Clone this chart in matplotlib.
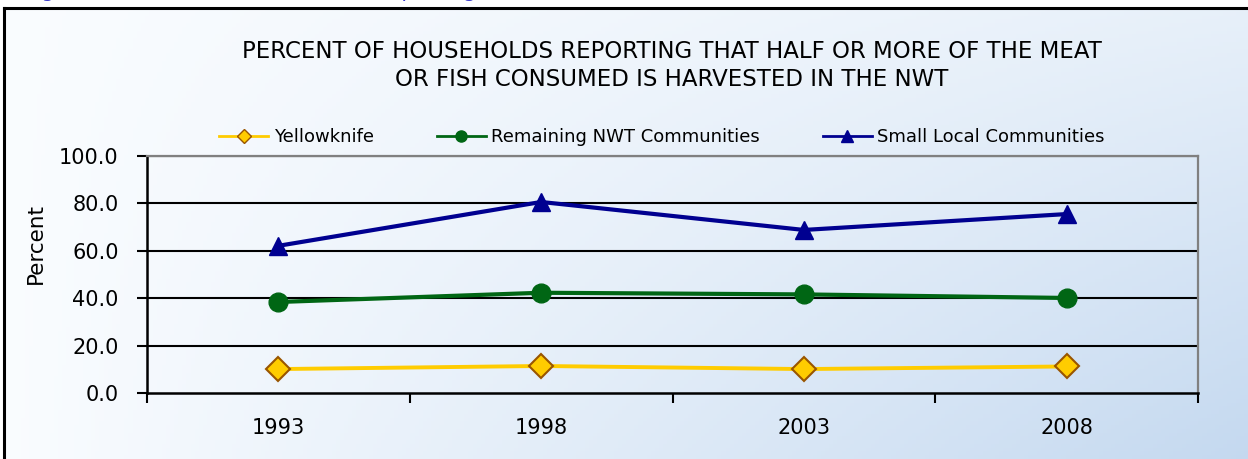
import numpy as np
import matplotlib.pyplot as plt
from matplotlib.lines import Line2D

years = ['1993', '1998', '2003', '2008']
yellowknife = [10.1, 11.4, 10.1, 11.2]
remaining = [38.4, 42.3, 41.6, 40.1]
small_local = [62.1, 80.6, 68.8, 75.5]

W, H = 1248, 459
fig = plt.figure(figsize=(W / 100, H / 100), dpi=100)
fig.patch.set_facecolor('white')

# caption of the page, almost entirely above the crop
fig.text(0.02, 1 + 3 / H, 'Figure 10: Percent of Households Reporting that Half or More of the Meat or Fish Consumed is Harvested in the NWT',
         color='#3a3acc', fontsize=15, va='baseline', ha='left')

# gradient background inside the frame
bg = fig.add_axes([4 / W, 0, 1 - 4 / W, (H - 8) / H])
gx, gy = np.meshgrid(np.linspace(0, 1, 300), np.linspace(0, 1, 120))
t = np.clip(gx * (0.35 + 0.65 * gy), 0, 1)
c0 = np.array([0.98, 0.99, 1.0])
c1 = np.array([0.77, 0.85, 0.94])
img = c0 + (c1 - c0) * t[..., None]
bg.imshow(img, aspect='auto', extent=[0, 1, 0, 1], origin='upper')
bg.set_xlim(0, 1)
bg.set_ylim(0, 1)
bg.set_axis_off()
fig.add_artist(Line2D([4 / W, 4 / W], [0, (H - 8) / H], color='black', lw=2.2))
fig.add_artist(Line2D([4 / W, 1], [(H - 8) / H, (H - 8) / H], color='black', lw=2.2))

ax = fig.add_axes([147 / W, (H - 393) / H, (1198 - 147) / W, (393 - 156) / H])
ax.patch.set_alpha(0)
x = np.arange(len(years))

for v in [20, 40, 60, 80]:
    ax.axhline(v, color='black', lw=1.5, zorder=1)
ax.axhline(100, color='#808080', lw=1.6, zorder=1)

ax.plot(x, yellowknife, color='#ffcc00', lw=2.8, marker='D', ms=12.5,
        mfc='#ffcc00', mec='#995500', mew=1.5, label='Yellowknife', zorder=3)
ax.plot(x, remaining, color='#006614', lw=3, marker='o', ms=13.5,
        mfc='#006614', mec='#006614', label='Remaining NWT Communities', zorder=3)
ax.plot(x, small_local, color='#000090', lw=3, marker='^', ms=13.5,
        mfc='#000090', mec='#000090', label='Small Local Communities', zorder=3)

ax.set_xlim(-0.5, 3.5)
ax.set_ylim(0, 100)
ax.set_yticks(np.arange(0, 101, 20))
ax.set_yticklabels([f'{v:.1f}' for v in np.arange(0, 101, 20)], fontsize=15)
ax.set_xticks(np.arange(-0.5, 3.6, 1))
ax.set_xticklabels([])
ax.set_xticks(x, minor=True)
ax.set_xticklabels(years, minor=True, fontsize=15)
ax.tick_params(axis='x', which='minor', length=0, pad=18)
ax.tick_params(axis='x', which='major', length=7, width=1.5, direction='out')
ax.tick_params(axis='y', length=7, width=1.5, direction='out', pad=13.5)
ax.spines['left'].set_linewidth(1.8)
ax.spines['bottom'].set_linewidth(1.8)
ax.spines['top'].set_color('#808080')
ax.spines['right'].set_color('#808080')
ax.spines['top'].set_linewidth(1.6)
ax.spines['right'].set_linewidth(1.6)
fig.text(36 / W, 1 - 243 / H, 'Percent', rotation=90, ha='center', va='center', fontsize=15.5)

handles = [
    Line2D([], [], color='#ffcc00', lw=2, marker='D', ms=7, mfc='#ffcc00', mec='#995500'),
    Line2D([], [], color='#006614', lw=2, marker='o', ms=8, mfc='#006614'),
    Line2D([], [], color='#000090', lw=2, marker='^', ms=8, mfc='#000090'),
]
fig.legend(handles, ['Yellowknife', 'Remaining NWT Communities', 'Small Local Communities'],
           loc='center', bbox_to_anchor=(662 / W, 1 - 137 / H), ncol=3, frameon=False,
           fontsize=13, handlelength=2.7, columnspacing=3.5, handletextpad=0.3)

fig.text(672 / W, 1 - 52 / H, 'PERCENT OF HOUSEHOLDS REPORTING THAT HALF OR MORE OF THE MEAT',
         ha='center', va='center', fontsize=16.5)
fig.text(672 / W, 1 - 79 / H, 'OR FISH CONSUMED IS HARVESTED IN THE NWT',
         ha='center', va='center', fontsize=16.5)

fig.savefig('out.png', dpi=100)
